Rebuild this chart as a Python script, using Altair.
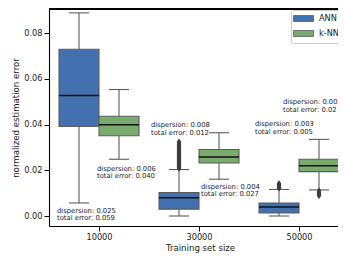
import json
import altair as alt
import pandas as pd

# ---- data ----
groups = ["10000", "30000", "50000"]
methods = ["ANN", "k-NN"]
colors = ["#4371af", "#79ab6f"]

# order: 10000 ANN, 10000 k-NN, 30000 ANN, 30000 k-NN, 50000 ANN, 50000 k-NN
box_group = [0, 0, 1, 1, 2, 2]
box_method = ["ANN", "k-NN", "ANN", "k-NN", "ANN", "k-NN"]
whisk_lo = [0.0057, 0.0248, 0.0000, 0.0161, 0.0000, 0.0114]
q1 = [0.0391, 0.0351, 0.0030, 0.0232, 0.0013, 0.0194]
median = [0.0527, 0.0399, 0.0080, 0.0258, 0.0039, 0.0220]
q3 = [0.0729, 0.0436, 0.0103, 0.0291, 0.0057, 0.0248]
whisk_hi = [0.0888, 0.0553, 0.0203, 0.0364, 0.0116, 0.0335]

out_30000_ann = [0.0208, 0.0212, 0.0216, 0.0219, 0.0223, 0.0227, 0.0231, 0.0235,
                 0.0239, 0.0243, 0.0247, 0.0251, 0.0255, 0.0259, 0.0263, 0.0267,
                 0.0271, 0.0275, 0.0279, 0.0283, 0.0287, 0.0291, 0.0295, 0.0299,
                 0.0304, 0.0309, 0.0314, 0.0319, 0.0325]
out_50000_ann = [0.0121, 0.0126, 0.0131, 0.0135, 0.0139, 0.0142]
out_50000_knn = [0.0110, 0.0104, 0.0099, 0.0094, 0.0089]

ann_x = [-0.42, -0.02, 0.52, 1.02, 1.56, 1.84]
ann_y = [0.0024, 0.0207, 0.0396, 0.0127, 0.0402, 0.0498]
ann_text = [
    "dispersion: 0.025\ntotal error: 0.059",
    "dispersion: 0.006\ntotal error: 0.040",
    "dispersion: 0.008\ntotal error: 0.012",
    "dispersion: 0.004\ntotal error: 0.027",
    "dispersion: 0.003\ntotal error: 0.005",
    "dispersion: 0.00\ntotal error: 0.02",
]

y_ticks = [0.00, 0.02, 0.04, 0.06, 0.08]

# ---- tables ----
offs = {"ANN": -0.2, "k-NN": 0.2}
centers = [g + offs[m] for g, m in zip(box_group, box_method)]
boxes = pd.DataFrame({
    "method": box_method,
    "c": centers,
    "bx0": [c - 0.2 for c in centers],
    "bx1": [c + 0.2 for c in centers],
    "cx0": [c - 0.1 for c in centers],
    "cx1": [c + 0.1 for c in centers],
    "lo": whisk_lo, "q1": q1, "med": median, "q3": q3, "hi": whisk_hi,
})

outliers = pd.DataFrame({
    "c": [1 - 0.2] * len(out_30000_ann) + [2 - 0.2] * len(out_50000_ann) + [2 + 0.2] * len(out_50000_knn),
    "v": out_30000_ann + out_50000_ann + out_50000_knn,
})

ann = pd.DataFrame({"ax": ann_x, "ay": ann_y, "label": ann_text})

FONT = "DejaVu Sans"
TXT = "#1a1a1a"
EDGE = "#5c5c5c"
PLOT_W = 289

xscale = alt.Scale(domain=[-0.5, 2.39], nice=False, zero=False)
yscale = alt.Scale(domain=[-0.00437, 0.0905], nice=False, zero=False)
label_expr = json.dumps(groups) + "[datum.value]"
xaxis = alt.Axis(values=[0, 1, 2], labelExpr=label_expr, title="Training set size",
                 grid=False, titleX=151)
yaxis = alt.Axis(values=y_ticks, format=".2f", title="normalized estimation error",
                 grid=False)


def xe(f):
    return alt.X(f, type="quantitative", scale=xscale, axis=xaxis)


def ye(f):
    return alt.Y(f, type="quantitative", scale=yscale, axis=yaxis)


base = alt.Chart(boxes)

whisk_low = base.mark_rule(color=EDGE, strokeWidth=1.1, clip=True).encode(
    x=xe("c"), y=ye("lo"), y2="q1")
whisk_high = base.mark_rule(color=EDGE, strokeWidth=1.1, clip=True).encode(
    x=xe("c"), y=ye("q3"), y2="hi")
cap_low = base.mark_rule(color=EDGE, strokeWidth=1.1, clip=True).encode(
    x=xe("cx0"), x2="cx1", y=ye("lo"))
cap_high = base.mark_rule(color=EDGE, strokeWidth=1.1, clip=True).encode(
    x=xe("cx0"), x2="cx1", y=ye("hi"))

rects = base.mark_rect(stroke=EDGE, strokeWidth=1.1, clip=True).encode(
    x=xe("bx0"), x2="bx1", y=ye("q1"), y2="q3",
    color=alt.Color("method:N", scale=alt.Scale(domain=methods, range=colors),
                    legend=alt.Legend(title=None, orient="none", legendX=242, legendY=1,
                                      symbolType="M-2.5,-0.75H2.5V0.75H-2.5Z", symbolSize=64,
                                      symbolStrokeColor=EDGE, symbolStrokeWidth=0.8,
                                      symbolOpacity=1, symbolOffset=4,
                                      labelFont=FONT, labelFontSize=8.2, labelColor=TXT,
                                      padding=4, rowPadding=4, labelOffset=11,
                                      strokeColor="#cccccc", fillColor="white",
                                      cornerRadius=2)),
)

med = base.mark_rule(color="#111111", strokeWidth=1.5, clip=True).encode(
    x=xe("bx0"), x2="bx1", y=ye("med"))

outl = alt.Chart(outliers).mark_point(
    shape="M0,-1L0.7,0L0,1L-0.7,0Z", filled=True, color="#3d3d3d", opacity=1,
    size=42, clip=True).encode(x=xe("c"), y=ye("v"))

texts = alt.Chart(ann).mark_text(
    align="left", baseline="middle", lineBreak="\n", font=FONT, fontSize=6.8,
    lineHeight=7.5, color=TXT, clip=True).encode(
    x=xe("ax"), y=ye("ay"), text="label:N")

top_spine = alt.Chart(ann).mark_rule(color="black", strokeWidth=1.1).encode(
    x=alt.value(0), x2=alt.value(PLOT_W), y=alt.value(0))

chart = alt.layer(
    whisk_low, whisk_high, cap_low, cap_high, rects, med, outl, texts, top_spine
).properties(
    width=PLOT_W, height=217,
    padding={"left": 41, "top": 1, "right": 0, "bottom": 30},
    autosize=alt.AutoSizeParams(type="none"),
).configure_view(stroke=None).configure_axis(
    domainColor="black", domainWidth=1.1, tickColor="black", tickWidth=1, tickSize=5,
    labelFont=FONT, labelFontSize=8.2, labelColor=TXT, labelPadding=2,
    titleFont=FONT, titleFontSize=8.6, titleFontWeight="normal", titleColor=TXT,
    titlePadding=3,
)

chart.save("out.html", embed_options={"renderer": "svg", "actions": False})
